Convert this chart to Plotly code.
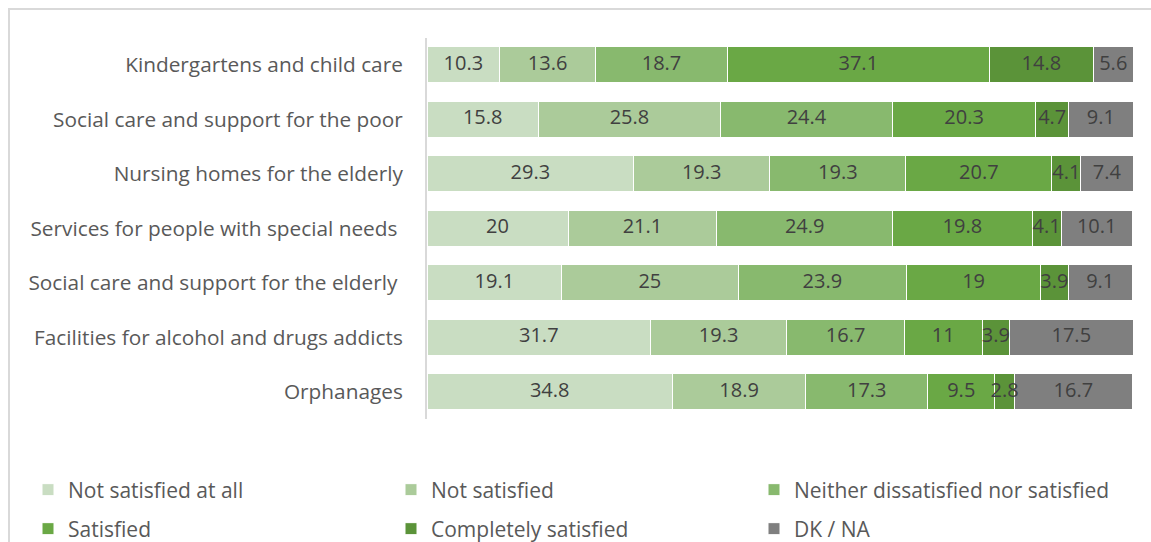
import plotly.graph_objects as go

categories = [
    "Kindergartens and child care",
    "Social care and support for the poor",
    "Nursing homes for the elderly",
    "Services for people with special needs\u00a0",
    "Social care and support for the elderly\u00a0",
    "Facilities for alcohol and drugs addicts",
    "Orphanages",
]
series_names = [
    "Not satisfied at all",
    "Not satisfied",
    "Neither dissatisfied nor satisfied",
    "Satisfied",
    "Completely satisfied",
    "DK / NA",
]
not_satisfied_at_all = [10.3, 15.8, 29.3, 20, 19.1, 31.7, 34.8]
not_satisfied = [13.6, 25.8, 19.3, 21.1, 25, 19.3, 18.9]
neither = [18.7, 24.4, 19.3, 24.9, 23.9, 16.7, 17.3]
satisfied = [37.1, 20.3, 20.7, 19.8, 19, 11, 9.5]
completely_satisfied = [14.8, 4.7, 4.1, 4.1, 3.9, 3.9, 2.8]
dk_na = [5.6, 9.1, 7.4, 10.1, 9.1, 17.5, 16.7]

colors = ["#c9ddc2", "#abcb9a", "#88b96e", "#6aa845", "#5b9339", "#7f7f7f"]
values = [not_satisfied_at_all, not_satisfied, neither, satisfied,
          completely_satisfied, dk_na]

W, H = 1151, 542


def fx(px):
    return px / W


def fy(py):
    return 1 - py / H


XMAX = 100.2
x_end = 427 + (1133 - 427) * XMAX / 100.1

fig = go.Figure()
for i, (name, vals, col) in enumerate(zip(series_names, values, colors)):
    fig.add_trace(go.Bar(
        y=categories, x=vals, name=name, orientation="h",
        marker=dict(color=col, line=dict(color="white", width=1)),
        legend="legend" if i < 3 else "legend2",
        hoverinfo="skip",
    ))

# value labels drawn on top of all bars (centred in each stacked segment)
lab_x, lab_y, lab_t = [], [], []
for j, cat in enumerate(categories):
    start = 0.0
    for vals in values:
        v = vals[j]
        lab_x.append(start + v / 2)
        lab_y.append(cat)
        lab_t.append(str(v))
        start += v
fig.add_trace(go.Scatter(
    x=lab_x, y=lab_y, text=lab_t, mode="text", textposition="middle center",
    textfont=dict(size=20, color="#404040", family="Open Sans"),
    showlegend=False, cliponaxis=False, hoverinfo="skip",
))

legend_common = dict(orientation="h", xanchor="left", yanchor="middle",
                     entrywidth=318, entrywidthmode="pixels",
                     font=dict(size=21, color="#595959", family="Open Sans"),
                     itemwidth=30, traceorder="normal", borderwidth=0,
                     bgcolor="rgba(0,0,0,0)")

fig.update_layout(
    width=W, height=H,
    barmode="stack", bargap=0.337,
    margin=dict(l=0, r=0, t=0, b=0, autoexpand=False),
    paper_bgcolor="white", plot_bgcolor="white",
    font=dict(family="Open Sans", color="#595959"),
    xaxis=dict(domain=[fx(427), fx(x_end)], range=[0, XMAX], showgrid=False,
               showticklabels=False, zeroline=False, fixedrange=True),
    yaxis=dict(domain=[fy(419), fy(37.5)], autorange="reversed",
               showline=True, linecolor="#d9d9d9", linewidth=2,
               ticks="", ticklabelstandoff=18, automargin=False,
               tickfont=dict(size=20.8, color="#595959", family="Open Sans")),
    legend=dict(x=fx(28), y=fy(490), **legend_common),
    legend2=dict(x=fx(28), y=fy(529), **legend_common),
    shapes=[dict(type="rect", xref="paper", yref="paper",
                 x0=fx(9), x1=1.05, y0=-0.05, y1=fy(9),
                 line=dict(color="#d9d9d9", width=2), layer="below")],
)

fig.write_html("out.html",
               config={"displayModeBar": False},
               post_script="document.body.style.margin='0';"
                           "document.body.style.overflow='hidden';")
